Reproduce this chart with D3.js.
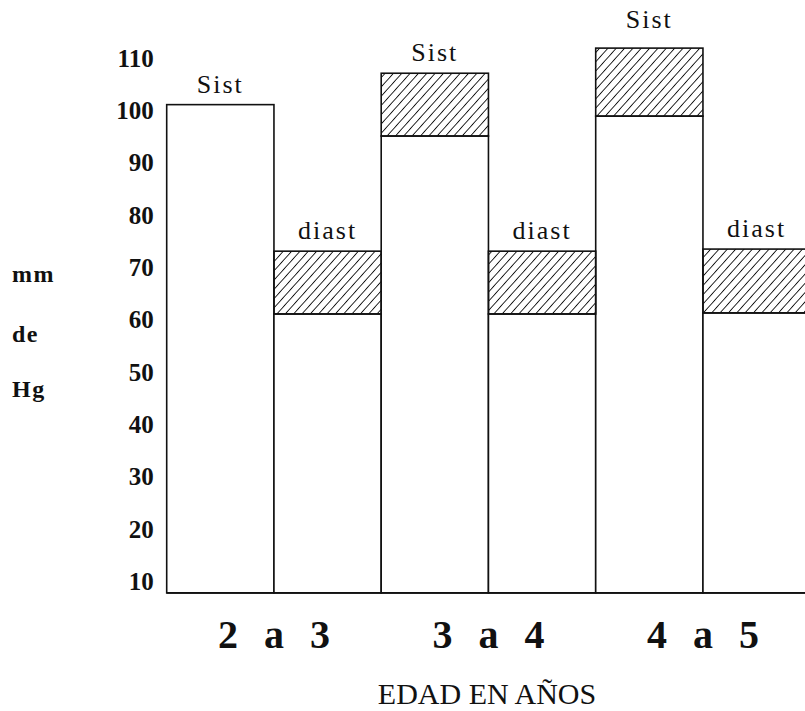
<!DOCTYPE html>
<html><head><meta charset="utf-8">
<script src="https://cdn.jsdelivr.net/npm/d3@7"></script>
<style>body{margin:0;background:#fff}</style>
</head><body><svg id="c" width="805" height="711"></svg>
<script>
// ---- data ----
const categories = ["2 a 3", "3 a 4", "4 a 5"];
const seriesNames = ["Sist", "diast"];
const sistLow  = [100, 94, 97.8];
const sistHigh = [100, 106, 110.8];
const diastLow  = [60, 60, 60.2];
const diastHigh = [72, 72, 72.4];
const yTicks = [10, 20, 30, 40, 50, 60, 70, 80, 90, 100, 110];
const yUnits = ["mm", "de", "Hg"];
const xTitle = "EDAD EN AÑOS";
const axisFloor = 6.7;

// ---- layout ----
const W = 805, H = 711;
const svg = d3.select("#c");
svg.append("rect").attr("width", W).attr("height", H).attr("fill", "#fff");

const defs = svg.append("defs");
const pat = defs.append("pattern").attr("id", "hatch")
  .attr("patternUnits", "userSpaceOnUse").attr("width", 6.2).attr("height", 10)
  .attr("patternTransform", "rotate(42)");
pat.append("line").attr("x1", 0).attr("y1", 0).attr("x2", 0).attr("y2", 10)
  .attr("stroke", "#111").attr("stroke-width", 1.8);

const y = d3.scaleLinear().domain([0, 110]).range([628, 52.3]);
const x = d3.scaleBand().domain(categories).range([166.7, 166.7 + 3 * 214.5]).padding(0);
const xi = d3.scaleBand().domain(seriesNames).range([0, x.bandwidth()]).padding(0);

const serif = "'Liberation Serif','DejaVu Serif',serif";
const ink = "#111";

const rows = categories.map((c, i) => [
  {cat: c, s: "Sist", lo: sistLow[i], hi: sistHigh[i]},
  {cat: c, s: "diast", lo: diastLow[i], hi: diastHigh[i]}
]).flat();

const g = svg.append("g");
g.selectAll("rect.lo").data(rows).join("rect").attr("class", "lo")
  .attr("x", d => x(d.cat) + xi(d.s)).attr("width", xi.bandwidth())
  .attr("y", d => y(d.lo)).attr("height", d => y(axisFloor) - y(d.lo))
  .attr("fill", "#fff").attr("stroke", ink).attr("stroke-width", 1.6);
g.selectAll("rect.hi").data(rows.filter(d => d.hi > d.lo)).join("rect").attr("class", "hi")
  .attr("x", d => x(d.cat) + xi(d.s)).attr("width", xi.bandwidth())
  .attr("y", d => y(d.hi)).attr("height", d => y(d.lo) - y(d.hi))
  .attr("fill", "url(#hatch)").attr("stroke", ink).attr("stroke-width", 1.6);

g.selectAll("text.lab").data(rows).join("text").attr("class", "lab")
  .attr("x", d => x(d.cat) + xi(d.s) + xi.bandwidth() / 2)
  .attr("y", d => y(d.hi) - (d.hi > 108 ? 20 : 12))
  .attr("text-anchor", "middle").attr("font-family", serif).attr("font-size", 26)
  .attr("letter-spacing", 2).attr("fill", ink)
  .text(d => d.s);

svg.append("line").attr("x1", 166.7).attr("x2", W).attr("y1", y(axisFloor)).attr("y2", y(axisFloor))
  .attr("stroke", ink).attr("stroke-width", 1.8);

const yAxis = d3.axisLeft(y).tickValues(yTicks).tickSize(0).tickPadding(13);
const ya = svg.append("g").attr("transform", "translate(166.7,0)").call(yAxis);
ya.select(".domain").remove();
ya.selectAll("text").attr("font-family", serif).attr("font-size", 25).attr("font-weight", "bold")
  .attr("fill", ink).attr("transform", "translate(0,6)");

svg.selectAll("text.unit").data(yUnits).join("text").attr("class", "unit")
  .attr("x", 12).attr("y", (d, i) => [282, 342, 397][i])
  .attr("font-family", serif).attr("font-size", 24).attr("font-weight", "bold")
  .attr("letter-spacing", 1.5).attr("fill", ink).text(d => d);

svg.selectAll("text.cat").data(categories).join("text").attr("class", "cat")
  .attr("x", d => x(d) + x.bandwidth() / 2).attr("y", 648)
  .attr("text-anchor", "middle").attr("font-family", serif).attr("font-size", 40)
  .attr("font-weight", "bold").attr("word-spacing", 16).attr("fill", ink)
  .style("white-space", "pre").text(d => d);

svg.append("text").attr("x", 487).attr("y", 704).attr("text-anchor", "middle")
  .attr("font-family", serif).attr("font-size", 30).attr("fill", ink).text(xTitle);
</script>
</body></html>
